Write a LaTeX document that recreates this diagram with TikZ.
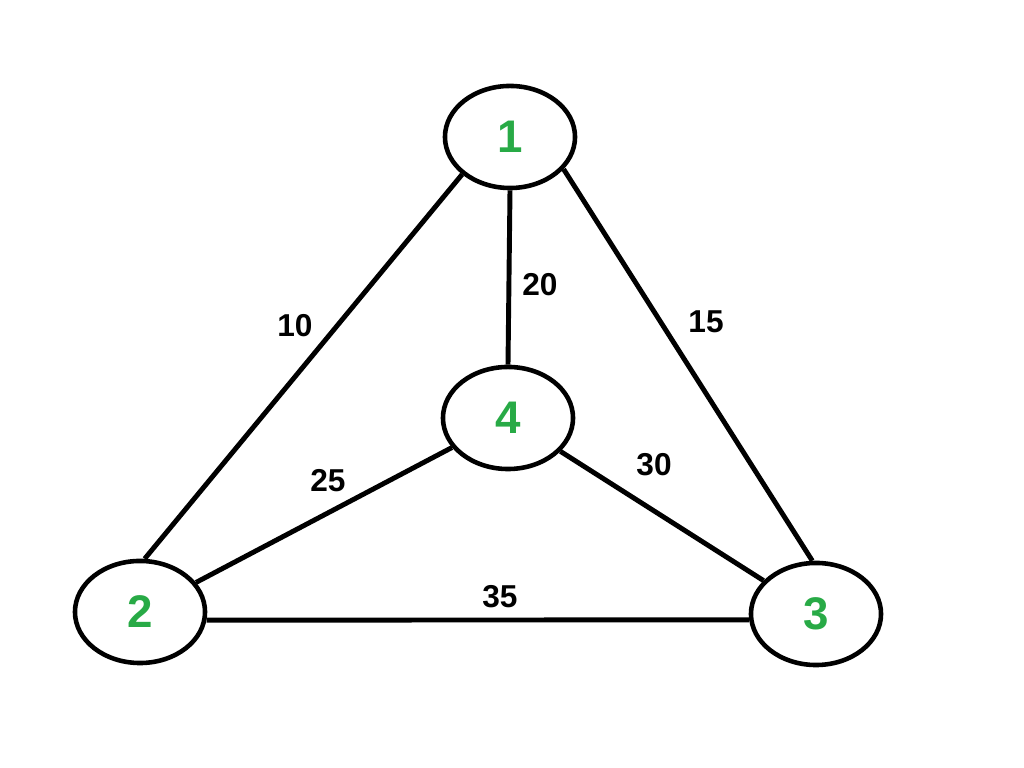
\documentclass[tikz,border=0pt]{standalone}
\usepackage{fontspec}
\setmainfont{Liberation Sans}
\usetikzlibrary{shapes.geometric}
\definecolor{vgreen}{RGB}{40,170,70}

\begin{document}
\begin{tikzpicture}[x = 0.01cm, y = -0.01cm,
    vertex/.style = {draw, ellipse, line width = 1.3pt, minimum width = 1.3cm, minimum height = 1.02cm,
                     inner sep = 0pt, text = vgreen, font = \fontsize{13}{13}\selectfont\bfseries},
    weight/.style = {font = \fontsize{9}{9}\selectfont\bfseries}]
      \useasboundingbox (0,0) rectangle (1024,768);
      \node[vertex] (v1) at (510,137) {1};
      \node[vertex] (v4) at (508,418) {4};
      \node[vertex] (v2) at (140,612) {2};
      \node[vertex] (v3) at (816,614) {3};
      \path[line width = 1.4pt] (v1.218) edge (v2.85) (v1.270) edge (v4.90) (v1.329) edge (v3.94)
                (v2) edge (v4) (v4) edge (v3) (v2.353) edge (v3.185);
      \node[weight] (w12) at (295,326) {10};
      \node[weight] (w14) at (540,285) {20};
      \node[weight] (w13) at (706,322) {15};
      \node[weight] (w24) at (328,481) {25};
      \node[weight] (w43) at (654,465) {30};
      \node[weight] (w23) at (500,597) {35};
    \end{tikzpicture}
\end{document}
